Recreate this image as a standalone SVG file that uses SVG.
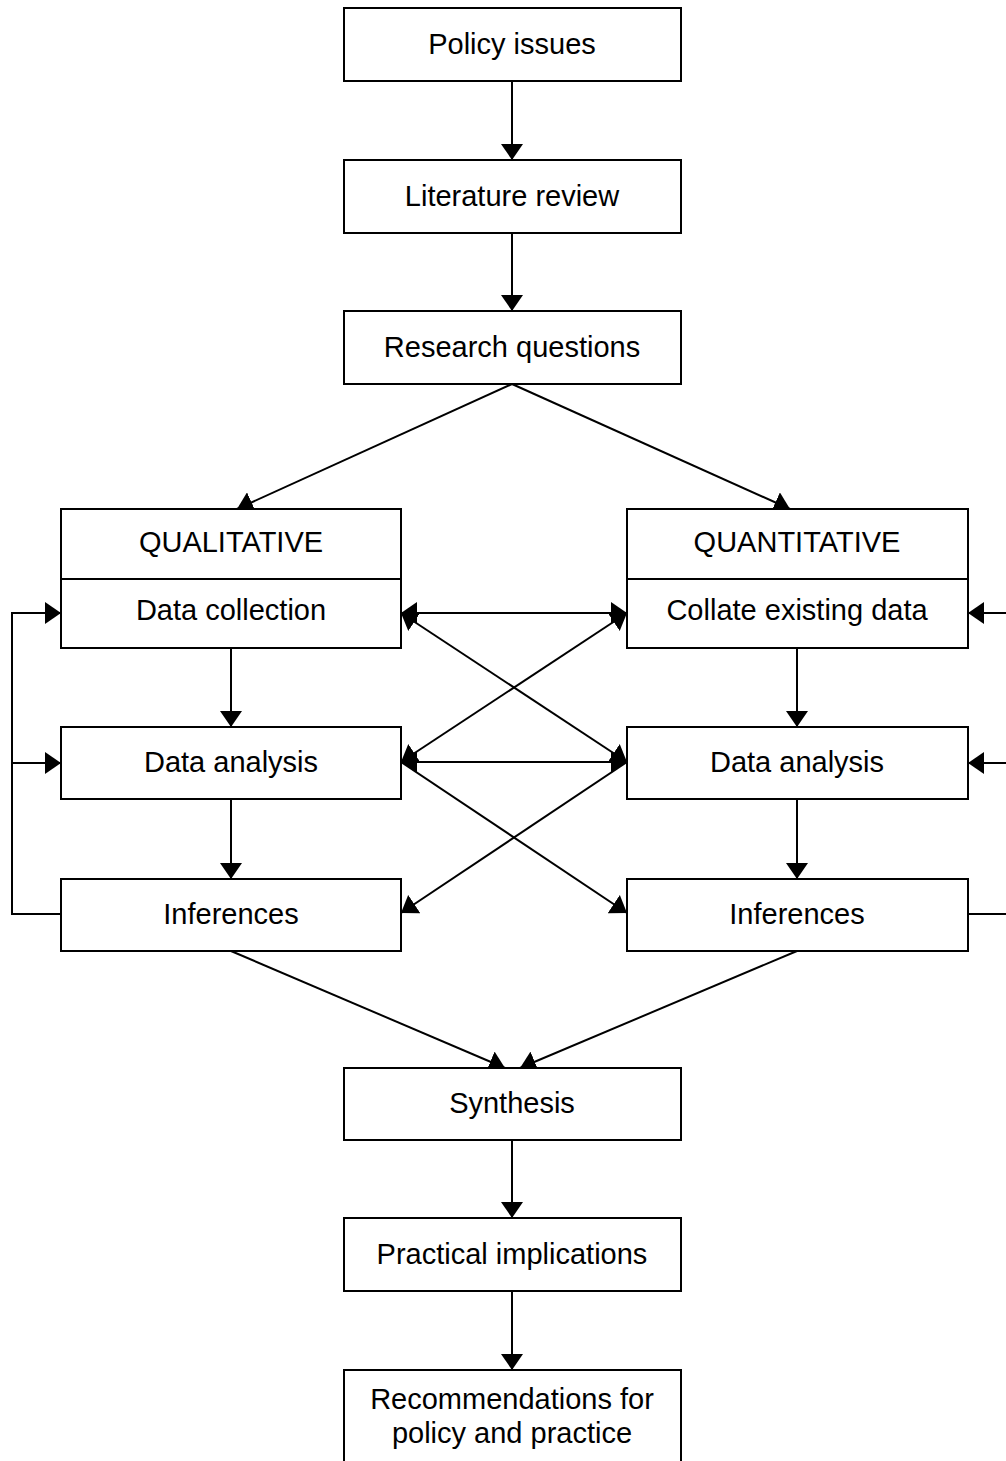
<svg xmlns="http://www.w3.org/2000/svg" width="1006" height="1461" viewBox="0 0 1006 1461">
<style>
.box{fill:#fff;stroke:#000;stroke-width:2}
.t{font-family:"Liberation Sans",Arial,sans-serif;font-size:29px;fill:#000;text-anchor:middle}
.c{fill:none;stroke:#000;stroke-width:2}
</style>
<defs>
<marker id="ah" viewBox="0 0 16 22" refX="16" refY="11" markerWidth="16" markerHeight="22" markerUnits="userSpaceOnUse" orient="auto-start-reverse">
<path d="M0,0 L16,11 L0,22 Z" fill="#000"/>
</marker>
</defs>
<rect width="1006" height="1461" fill="#fff"/>
<g id="connectors">
<line class="c" x1="512" y1="81" x2="512" y2="160" marker-end="url(#ah)"/>
<line class="c" x1="512" y1="233" x2="512" y2="311" marker-end="url(#ah)"/>
<line class="c" x1="512" y1="384" x2="237" y2="509" marker-end="url(#ah)"/>
<line class="c" x1="512" y1="384" x2="790" y2="509" marker-end="url(#ah)"/>
<line class="c" x1="231" y1="648" x2="231" y2="727" marker-end="url(#ah)"/>
<line class="c" x1="231" y1="799" x2="231" y2="879" marker-end="url(#ah)"/>
<line class="c" x1="797" y1="648" x2="797" y2="727" marker-end="url(#ah)"/>
<line class="c" x1="797" y1="799" x2="797" y2="879" marker-end="url(#ah)"/>
<line class="c" x1="401" y1="613" x2="627" y2="613" marker-start="url(#ah)" marker-end="url(#ah)"/>
<line class="c" x1="401" y1="762" x2="627" y2="762" marker-start="url(#ah)" marker-end="url(#ah)"/>
<line class="c" x1="401" y1="613" x2="627" y2="762" marker-start="url(#ah)" marker-end="url(#ah)"/>
<line class="c" x1="627" y1="613" x2="401" y2="762" marker-start="url(#ah)" marker-end="url(#ah)"/>
<line class="c" x1="401" y1="762" x2="627" y2="913" marker-end="url(#ah)"/>
<line class="c" x1="627" y1="762" x2="401" y2="913" marker-end="url(#ah)"/>
<polyline class="c" points="61,914 12,914 12,613 61,613" marker-end="url(#ah)"/>
<line class="c" x1="12" y1="763" x2="61" y2="763" marker-end="url(#ah)"/>
<polyline class="c" points="968,914 1030,914 1030,613 968,613" marker-end="url(#ah)"/>
<line class="c" x1="1030" y1="763" x2="968" y2="763" marker-end="url(#ah)"/>
<line class="c" x1="231" y1="951" x2="505" y2="1068" marker-end="url(#ah)"/>
<line class="c" x1="797" y1="951" x2="520" y2="1068" marker-end="url(#ah)"/>
<line class="c" x1="512" y1="1140" x2="512" y2="1218" marker-end="url(#ah)"/>
<line class="c" x1="512" y1="1291" x2="512" y2="1370" marker-end="url(#ah)"/>
</g>
<g id="policy"><rect class="box" x="344" y="8" width="337" height="73"/><text class="t" x="512" y="54">Policy issues</text></g>
<g id="literature"><rect class="box" x="344" y="160" width="337" height="73"/><text class="t" x="512" y="206">Literature review</text></g>
<g id="research"><rect class="box" x="344" y="311" width="337" height="73"/><text class="t" x="512" y="357">Research questions</text></g>
<g id="qualitative"><rect class="box" x="61" y="509" width="340" height="139"/><line class="c" x1="61" y1="579" x2="401" y2="579"/><text class="t" x="231" y="552">QUALITATIVE</text><text class="t" x="231" y="620">Data collection</text></g>
<g id="quantitative"><rect class="box" x="627" y="509" width="341" height="139"/><line class="c" x1="627" y1="579" x2="968" y2="579"/><text class="t" x="797" y="552">QUANTITATIVE</text><text class="t" x="797" y="620">Collate existing data</text></g>
<g id="ql-analysis"><rect class="box" x="61" y="727" width="340" height="72"/><text class="t" x="231" y="772">Data analysis</text></g>
<g id="qn-analysis"><rect class="box" x="627" y="727" width="341" height="72"/><text class="t" x="797" y="772">Data analysis</text></g>
<g id="ql-inferences"><rect class="box" x="61" y="879" width="340" height="72"/><text class="t" x="231" y="924">Inferences</text></g>
<g id="qn-inferences"><rect class="box" x="627" y="879" width="341" height="72"/><text class="t" x="797" y="924">Inferences</text></g>
<g id="synthesis"><rect class="box" x="344" y="1068" width="337" height="72"/><text class="t" x="512" y="1113">Synthesis</text></g>
<g id="practical"><rect class="box" x="344" y="1218" width="337" height="73"/><text class="t" x="512" y="1264">Practical implications</text></g>
<g id="recommendations"><rect class="box" x="344" y="1370" width="337" height="100"/><text class="t" x="512" y="1409">Recommendations for</text><text class="t" x="512" y="1443">policy and practice</text></g>
</svg>
